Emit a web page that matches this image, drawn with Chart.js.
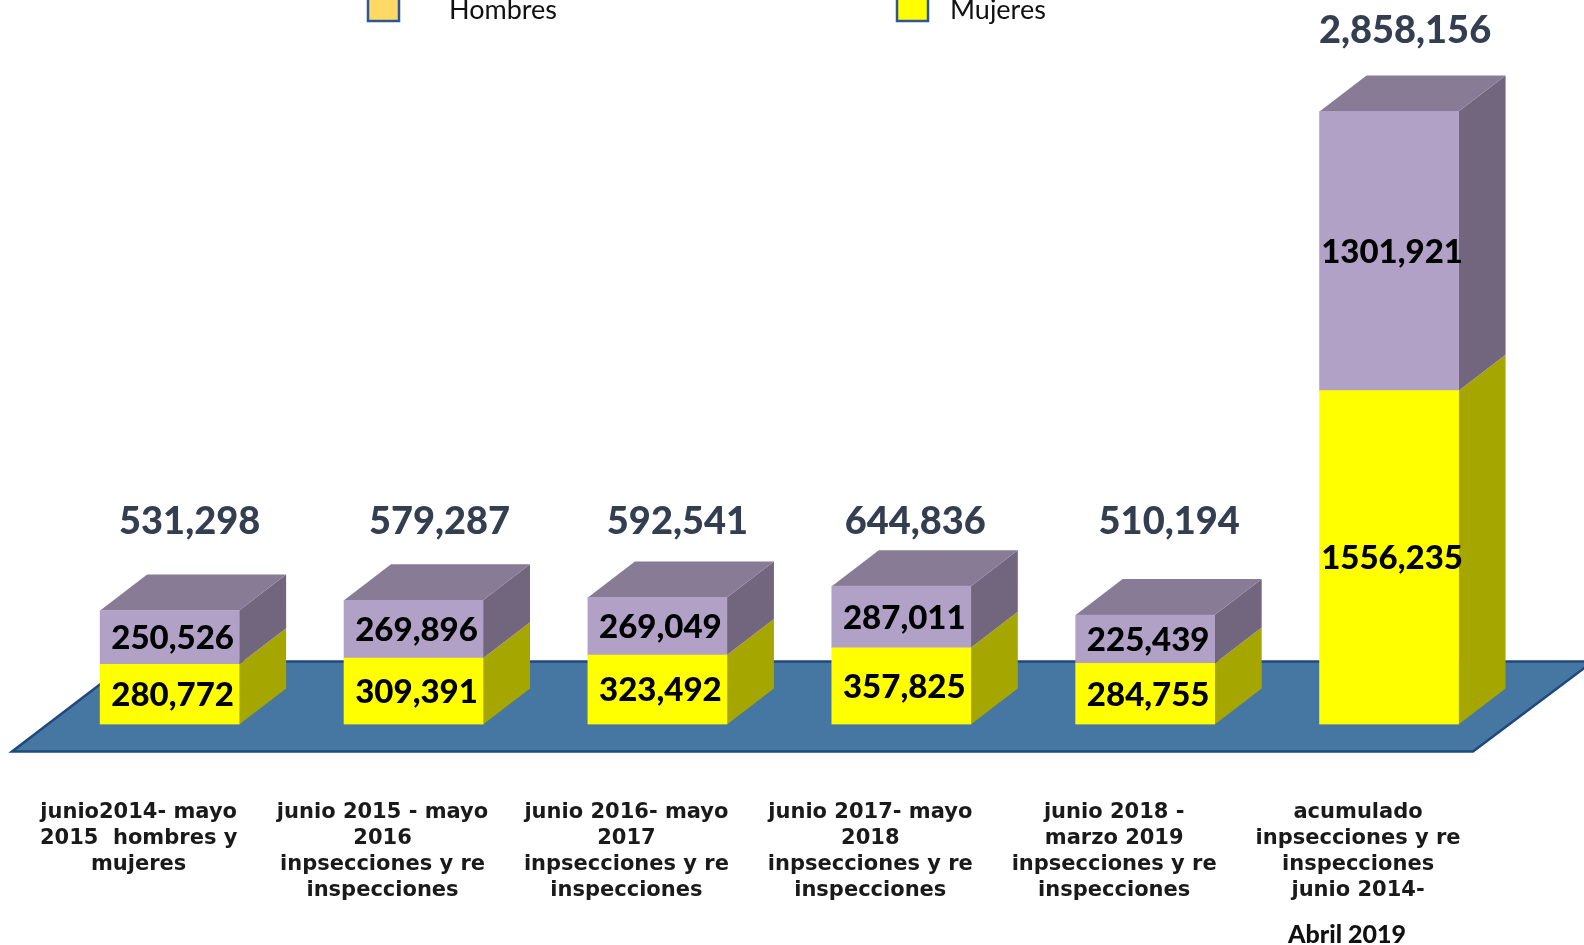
<!DOCTYPE html>
<html lang="es">
<head>
<meta charset="utf-8">
<title>Inspecciones y re inspecciones</title>
<script src="https://cdn.jsdelivr.net/npm/chart.js@4/dist/chart.umd.min.js"></script>
<style>
  html, body { margin: 0; padding: 0; background: #fff; overflow: hidden; }
  canvas { display: block; }
</style>
</head>
<body>
<canvas id="chartInspecciones" width="1584" height="945"></canvas>
<script>
// datos
const categorias = [
  ["junio2014- mayo", "2015  hombres y", "mujeres"],
  ["junio 2015 - mayo", "2016", "inpsecciones y re", "inspecciones"],
  ["junio 2016- mayo", "2017", "inpsecciones y re", "inspecciones"],
  ["junio 2017- mayo", "2018", "inpsecciones y re", "inspecciones"],
  ["junio 2018 -", "marzo 2019", "inpsecciones y re", "inspecciones"],
  ["acumulado", "inpsecciones y re", "inspecciones", "junio 2014-"]
];
const mujeres = [280772, 309391, 323492, 357825, 284755, 1556235];
const hombres = [250526, 269896, 269049, 287011, 225439, 1301921];
const totales = ["531,298", "579,287", "592,541", "644,836", "510,194", "2,858,156"];
const nombresLeyenda = ["Hombres", "Mujeres"];
const notaFinal = "Abril 2019";

// ==========================
// PROFUNDIDAD 3D
// ==========================
const DX = 47;
const DY = 36;
const coloresLado = ["#a6a600", "#72667f"];
const colorTapa = "#877b95";
const ajusteTotalX = [20, 26, 20, 14, 24, 16];

function poligono(ctx, puntos, color) {
  ctx.fillStyle = color;
  ctx.beginPath();
  puntos.forEach((p, i) => (i ? ctx.lineTo(p[0], p[1]) : ctx.moveTo(p[0], p[1])));
  ctx.closePath();
  ctx.fill();
}

function formatoValor(v) {
  return Math.floor(v / 1000) + "," + String(v % 1000).padStart(3, "0");
}

const plugin3d = {
  id: "plugin3d",
  beforeDatasetsDraw(chart) {
    const ctx = chart.ctx;
    const base = chart.scales.y.getPixelForValue(0);
    const abajo = base + 27;
    const arriba = base - 63;

    // piso azul
    const piso = [[12, abajo], [1473, abajo], [1593, arriba], [130, arriba]];
    poligono(ctx, piso, "#4676a2");
    ctx.save();
    ctx.strokeStyle = "#1f497d";
    ctx.lineWidth = 2.5;
    ctx.beginPath();
    piso.forEach((p, i) => (i ? ctx.lineTo(p[0], p[1]) : ctx.moveTo(p[0], p[1])));
    ctx.closePath();
    ctx.stroke();
    ctx.restore();

    // lados y tapa de cada barra
    chart.data.datasets.forEach((ds, d) => {
      chart.getDatasetMeta(d).data.forEach((bar) => {
        const der = bar.x + bar.width / 2;
        const izq = bar.x - bar.width / 2;
        poligono(ctx, [[der, bar.y], [der + DX, bar.y - DY], [der + DX, bar.base - DY], [der, bar.base]], coloresLado[d]);
        if (d === chart.data.datasets.length - 1) {
          poligono(ctx, [[izq, bar.y], [izq + DX, bar.y - DY], [der + DX, bar.y - DY], [der, bar.y]], colorTapa);
        }
      });
    });
  },
  afterDatasetsDraw(chart) {
    const ctx = chart.ctx;
    ctx.save();
    ctx.textAlign = "center";
    ctx.textBaseline = "middle";

    // valores dentro de las barras
    ctx.fillStyle = "#000";
    ctx.font = "900 33px Lato";
    chart.data.datasets.forEach((ds, d) => {
      chart.getDatasetMeta(d).data.forEach((bar, i) => {
        ctx.fillText(formatoValor(ds.data[i]), bar.x + 3, (bar.y + bar.base) / 2 + 1);
      });
    });

    // totales arriba
    const meta = chart.getDatasetMeta(1);
    ctx.fillStyle = "#333f50";
    ctx.font = "900 38px Lato";
    totales.forEach((t, i) => {
      const bar = meta.data[i];
      const y = i === totales.length - 1 ? bar.y - 81 : 522;
      ctx.fillText(t, bar.x + ajusteTotalX[i], y);
    });

    // nota debajo de la ultima categoria
    const ultimo = chart.scales.x.getPixelForTick(categorias.length - 1);
    ctx.fillStyle = "#111";
    ctx.font = "900 25px Lato";
    ctx.fillText(notaFinal, ultimo - 42, 935);

    // leyenda, cortada por el borde superior como en el original
    ctx.textAlign = "left";
    ctx.font = "27px Lato";
    [[368, 449, "#ffd966"], [897, 950, "#ffff00"]].forEach((l, i) => {
      ctx.fillStyle = l[2];
      ctx.strokeStyle = "#2f5597";
      ctx.lineWidth = 2.5;
      ctx.fillRect(l[0], -10, 31, 31);
      ctx.strokeRect(l[0], -10, 31, 31);
      ctx.fillStyle = "#111";
      ctx.fillText(nombresLeyenda[i], l[1], 10);
    });
    ctx.restore();
  }
};

new Chart(document.getElementById("chartInspecciones"), {
  type: "bar",
  data: {
    labels: categorias,
    datasets: [
      { label: nombresLeyenda[1], data: mujeres, backgroundColor: "#ffff00", barThickness: 139 },
      { label: nombresLeyenda[0], data: hombres, backgroundColor: "#b2a1c7", barThickness: 139 }
    ]
  },
  options: {
    responsive: false,
    animation: false,
    layout: { padding: { left: 47, right: 73, top: 81, bottom: 0 } },
    plugins: { legend: { display: false }, tooltip: { enabled: false } },
    scales: {
      x: {
        stacked: true,
        grid: { display: false },
        border: { display: false },
        afterFit(scale) { scale.height = 220.5; },
        ticks: {
          autoSkip: false,
          maxRotation: 0,
          minRotation: 0,
          padding: 67,
          labelOffset: -31,
          color: "#1a1a1a",
          font: { family: "DejaVu Sans", weight: "bold", size: 21, lineHeight: 1.24 }
        }
      },
      y: {
        stacked: true,
        display: false,
        min: 0,
        max: 3000000
      }
    }
  },
  plugins: [plugin3d]
});
</script>
</body>
</html>
